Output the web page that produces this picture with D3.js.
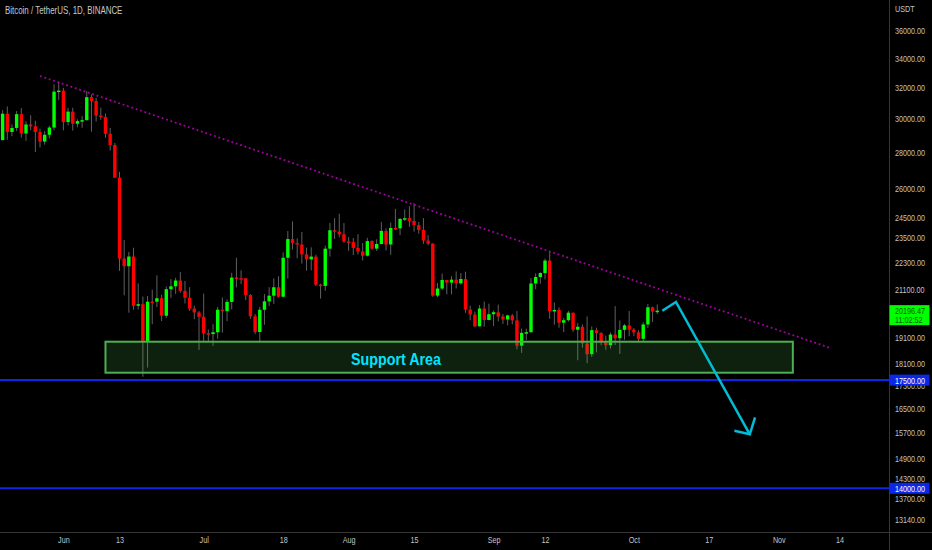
<!DOCTYPE html>
<html>
<head>
<meta charset="utf-8">
<script src="https://d3js.org/d3.v7.min.js"></script>
<style>
  html, body { margin: 0; padding: 0; background: #000; overflow: hidden; }
  text { font-family: "Liberation Sans", sans-serif; }
</style>
</head>
<body>
<div id="chart"></div>
<script>
// daily candles, 2022-05-19 -> 2022-10-06
const firstDay = "2022-05-19";
const opens = [28715,30319,29201,29445,30293,29109,29655,29542,29201,28629,29031,29468,31734,
  31801,29805,30452,29700,29864,29920,31373,31125,30204,30110,29091,28424,26574,22487,22136,22583,20401,20468,18970,20574,20573,20723,19987,21110,21237,21491,21038,20742,20281,20123,
  19942,19279,19243,19315,20236,20175,20564,21624,21594,21591,20862,19963,19328,20234,20588,20830,21195,20785,22525,23410,23223,23152,22684,22451,22579,21310,21254,22952,23842,23773,23643,
  23296,23266,22985,22816,22622,23313,22954,23175,23810,23151,23954,23934,24401,24443,24302,24094,23857,23342,23191,20834,21140,21516,21399,21530,21368,21559,20239,20037,19555,20285,19811,
  20050,20127,19953,19832,20000,19796,18790,19292,19320,21361,21647,21826,22395,20173,20227,19701,19803,20112,19417,19537,18874,18461,19401,19288,18921,18807,19227,19079,19412,19590,
  19422,19312,19057,19629,20337,20158];
const highs = [30545,30777,29656,30487,30670,29845,30223,29886,29397,29250,29573,32222,32399,
  31982,30689,30699,29972,30169,31765,31549,31327,30700,30333,29440,28544,26895,23362,22800,22995,21365,20792,20815,21090,21723,20871,21233,21558,21614,21868,21478,21200,20400,20179,
  20918,19425,19653,20354,20750,20675,21838,22527,21951,21600,20900,20060,20360,20900,21200,21588,21684,22777,23800,24277,23442,23756,22999,23014,22666,21347,23100,24199,24442,24668,24194,
  23509,23459,23647,23223,23472,23354,23402,24245,23933,24226,24918,24456,24888,25047,25211,24247,24446,23600,23208,21382,21800,21522,21684,21900,21819,21886,20402,20160,20433,20576,20490,
  20208,20450,20054,20029,20058,20179,19464,19458,21600,21810,21860,22488,22799,20541,20330,19890,20189,20117,19686,19634,19956,19550,19500,19316,19180,19315,20385,19790,19645,20185,
  19484,19395,19719,20475,20365,20456];
const lows = [28691,28730,28947,29255,28866,28669,29311,28019,28282,28450,28810,29299,31200,
  29300,29594,29282,29485,29450,29890,29218,29843,29944,28850,28099,26560,21925,20846,20111,20232,20246,17622,17960,19637,20348,19770,19890,20736,20906,20958,20500,20188,19845,18626,
  18975,18943,18781,19055,19304,19761,20251,21189,21338,20646,19862,19240,18910,19616,20382,20478,20750,20763,21577,22906,22500,22257,21934,21950,21250,20706,21042,22582,23414,23502,23227,
  22850,22654,22681,22400,22586,22909,22844,23154,22865,22664,23852,23601,24296,24010,23773,23671,23180,23111,20783,20761,21069,20890,20890,21145,21310,20107,19800,19520,19550,19540,19797,
  19565,19755,19651,19597,19635,18649,18510,19012,19291,21111,21350,21538,19860,19617,19497,19320,19748,19335,18232,18711,18125,18356,18531,18805,18629,18680,18816,18471,19020,19155,
  19159,18920,18959,19490,19730,20059];
const closes = [30319,29201,29445,30293,29109,29655,29542,29201,28629,29031,29468,31734,31801,
  29805,30452,29700,29864,29920,31373,31125,30204,30110,29091,28424,26574,22487,22136,22583,20401,20468,18970,20574,20573,20723,19987,21110,21237,21491,21038,20742,20281,20123,19942,
  19279,19243,19315,20236,20175,20564,21624,21594,21591,20862,19963,19328,20234,20588,20830,21195,20785,22525,23410,23223,23152,22684,22451,22579,21310,21254,22952,23842,23773,23643,23293,
  23268,22987,22818,22622,23312,22954,23175,23810,23149,23954,23934,24403,24441,24305,24094,23854,23342,23191,20834,21140,21515,21399,21529,21368,21560,20241,20037,19555,20285,19811,20050,
  20131,19953,19832,20000,19796,18790,19292,19319,21360,21648,21826,22395,20173,20226,19701,19803,20113,19416,19537,18875,18461,19401,19288,18920,18807,19227,19079,19412,19591,19422,
  19310,19056,19629,20337,20158,20196.47];

const priceTicks = [36000,34000,32000,30000,28000,26000,24500,23500,22300,21100,19100,18100,17300,16500,15700,14900,14300,13700,13140];
const timeTickDates = ["2022-06-01","2022-06-13","2022-07-01","2022-07-18","2022-08-01","2022-08-15","2022-09-01","2022-09-12","2022-10-01","2022-10-17","2022-11-01","2022-11-14"];
const timeTickLabels = ["Jun","13","Jul","18","Aug","15","Sep","12","Oct","17","Nov","14"];

const supportLevels = [17500, 14000];
const lastPrice = 20196.47;
const countdown = "11:02:52";

// drawings on the chart, [date, price]
const trendLine = [["2022-05-27", 32775], ["2022-11-12", 18700]];
const supportDates = ["2022-06-10", "2022-11-04"];
const supportPrices = [18943, 17770];
const arrowPath = [["2022-10-07T02:00", 20192], ["2022-10-10", 20560], ["2022-10-25T19:00", 15648]];
const arrowHead = [["2022-10-22T12:00", 15763], ["2022-10-25T19:00", 15648], ["2022-10-26T22:00", 16208]];

const width = 932, height = 550;
const axisX = 889, axisY = 532;

const parseDay = s => new Date(s.length > 10 ? s + "Z" : s + "T00:00Z");
const days = d3.utcDay.range(parseDay(firstDay), d3.utcDay.offset(parseDay(firstDay), opens.length));

// the labels of the original are narrow, so squeeze the glyphs
function squeeze(selection, ratio) {
    selection.each(function() {
        const t = d3.select(this);
        t.attr("x", (+t.attr("x") || 0) / ratio)
            .attr("transform", `scale(${ratio},1)`);
    });
}

const svg = d3.select("#chart").append("svg")
    .attr("width", width)
    .attr("height", height)
    .style("display", "block")
    .style("background", "#000");

// Scales : the price axis is logarithmic
const x = d3.scaleUtc()
    .domain([parseDay("2022-06-01"), parseDay("2022-11-14")])
    .range([63.4, 839.6]);

const y = d3.scaleLog()
    .domain([36000, 13140])
    .range([30.5, 519]);

const plot = svg.append("g");

// Candles
const candles = plot.selectAll("g.candle")
    .data(days)
    .enter()
    .append("g")
    .attr("class", "candle");

candles.append("line")
    .attr("x1", d => x(d))
    .attr("x2", d => x(d))
    .attr("y1", (d, i) => y(highs[i]))
    .attr("y2", (d, i) => y(lows[i]))
    .attr("stroke", "#606060")
    .attr("stroke-width", 1);

candles.append("rect")
    .attr("x", d => x(d) - 1.7)
    .attr("width", 3.4)
    .attr("y", (d, i) => y(Math.max(opens[i], closes[i])))
    .attr("height", (d, i) => Math.max(1.5, Math.abs(y(opens[i]) - y(closes[i]))))
    .attr("fill", (d, i) => closes[i] >= opens[i] ? "#00ff00" : "#ff0000");

// Support Area
plot.append("rect")
    .attr("x", x(parseDay(supportDates[0])))
    .attr("y", y(supportPrices[0]))
    .attr("width", x(parseDay(supportDates[1])) - x(parseDay(supportDates[0])))
    .attr("height", y(supportPrices[1]) - y(supportPrices[0]))
    .attr("fill", "#4caf50")
    .attr("fill-opacity", 0.18)
    .attr("stroke", "#4caf50")
    .attr("stroke-width", 2);

plot.append("text")
    .attr("x", 396)
    .attr("y", 365)
    .attr("text-anchor", "middle")
    .attr("fill", "#00e5ff")
    .attr("font-size", 17)
    .attr("font-weight", "bold")
    .text("Support Area")
    .call(squeeze, 0.84);

// Trend line
const line = d3.line()
    .x(d => x(parseDay(d[0])))
    .y(d => y(d[1]));

plot.append("path")
    .attr("d", line(trendLine))
    .attr("fill", "none")
    .attr("stroke", "#a400a4")
    .attr("stroke-width", 1.8)
    .attr("stroke-dasharray", "1.8 2.8");

// Horizontal levels
plot.selectAll("line.level")
    .data(supportLevels)
    .enter()
    .append("line")
    .attr("class", "level")
    .attr("x1", 0)
    .attr("x2", axisX)
    .attr("y1", d => y(d))
    .attr("y2", d => y(d))
    .attr("stroke", "#0a28e6")
    .attr("stroke-width", 2);

// Arrow
[arrowPath, arrowHead].forEach(pts => {
    plot.append("path")
        .attr("d", line(pts))
        .attr("fill", "none")
        .attr("stroke", "#00bcd4")
        .attr("stroke-width", 2.5);
});

// Panels behind the axes
svg.append("rect").attr("x", axisX).attr("y", 0).attr("width", width - axisX).attr("height", height).attr("fill", "#000");
svg.append("rect").attr("x", 0).attr("y", axisY).attr("width", width).attr("height", height - axisY).attr("fill", "#000");

// Axes
const priceAxis = svg.append("g")
    .attr("transform", `translate(${axisX},0)`)
    .call(d3.axisRight(y).tickValues(priceTicks).tickSize(0).tickPadding(6).tickFormat(d3.format(".2f")));
priceAxis.select(".domain").remove();
priceAxis.selectAll("text").attr("font-size", 9.5).attr("fill", "#c4c4c4").attr("font-family", null).call(squeeze, 0.76);

const timeAxis = svg.append("g")
    .attr("transform", `translate(0,${axisY})`)
    .call(d3.axisBottom(x).tickValues(timeTickDates.map(parseDay)).tickSize(0).tickPadding(4)
        .tickFormat((d, i) => timeTickLabels[i]));
timeAxis.select(".domain").remove();
timeAxis.selectAll("text").attr("font-size", 9.5).attr("fill", "#c4c4c4").attr("font-family", null).call(squeeze, 0.76);

svg.append("line").attr("x1", axisX + 0.5).attr("x2", axisX + 0.5).attr("y1", 0).attr("y2", height).attr("stroke", "#363636");
svg.append("line").attr("x1", 0).attr("x2", width).attr("y1", axisY + 0.5).attr("y2", axisY + 0.5).attr("stroke", "#363636");

// Price labels for the levels
const labelBoxes = svg.selectAll("g.level-label")
    .data(supportLevels)
    .enter()
    .append("g")
    .attr("class", "level-label")
    .attr("transform", d => `translate(${axisX},${y(d)})`);

labelBoxes.append("rect")
    .attr("x", 0.5).attr("y", -5.5).attr("width", 40).attr("height", 11)
    .attr("fill", "#0a28e6");

labelBoxes.append("text")
    .attr("x", 6).attr("y", 3.5)
    .attr("font-size", 9.5)
    .attr("fill", "#fff")
    .text(d => d3.format(".2f")(d))
    .call(squeeze, 0.76);

// Last price
const lastBox = svg.append("g").attr("transform", `translate(${axisX},${y(lastPrice)})`);
lastBox.append("rect")
    .attr("x", 0.5).attr("y", -5.5).attr("width", 40).attr("height", 20)
    .attr("fill", "#00ff00");
lastBox.append("text").attr("x", 6).attr("y", 3)
    .attr("font-size", 9.5).attr("fill", "#0a5a0a").text(d3.format(".2f")(lastPrice)).call(squeeze, 0.76);
lastBox.append("text").attr("x", 6).attr("y", 12.5)
    .attr("font-size", 9.5).attr("fill", "#0a5a0a").text(countdown).call(squeeze, 0.76);

// Titles
svg.append("text")
    .attr("x", 895).attr("y", 12)
    .attr("font-size", 9.5).attr("fill", "#c4c4c4")
    .text("USDT")
    .call(squeeze, 0.76);

svg.append("text")
    .attr("x", 5).attr("y", 14)
    .attr("font-size", 10.5).attr("fill", "#c8c8c8")
    .text("Bitcoin / TetherUS, 1D, BINANCE")
    .call(squeeze, 0.755);
</script>
</body>
</html>
